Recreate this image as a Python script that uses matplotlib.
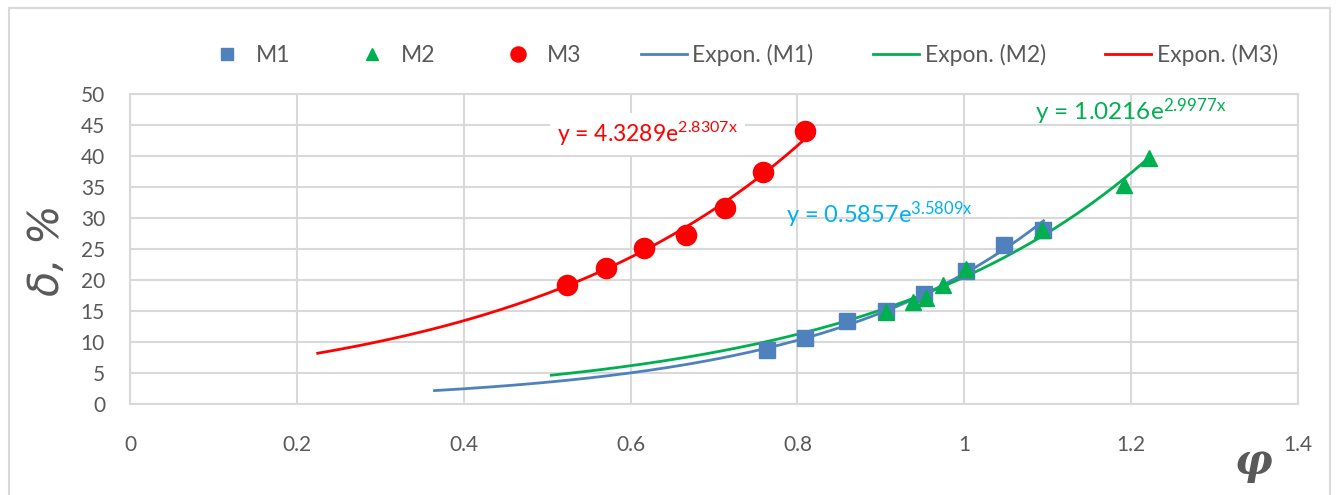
import numpy as np
import matplotlib
matplotlib.use("Agg")
import matplotlib.pyplot as plt
from matplotlib.patches import Rectangle

plt.rcParams['font.family'] = ['Lato', 'DejaVu Sans']
plt.rcParams['mathtext.fontset'] = 'custom'
plt.rcParams['mathtext.rm'] = 'Lato'
plt.rcParams['mathtext.it'] = 'Lato:italic'

# ---- data ----
m1_x = [0.763, 0.809, 0.860, 0.906, 0.952, 1.002, 1.048, 1.094]
m1_y = [8.7, 10.6, 13.4, 15.0, 17.7, 21.5, 25.6, 28.1]
m2_x = [0.906, 0.938, 0.954, 0.974, 1.002, 1.093, 1.191, 1.222]
m2_y = [14.9, 16.5, 17.1, 19.2, 21.8, 28.0, 35.4, 39.7]
m3_x = [0.524, 0.571, 0.616, 0.666, 0.713, 0.759, 0.809]
m3_y = [19.2, 21.9, 25.2, 27.3, 31.6, 37.4, 44.0]

fit_a = [0.5857, 1.0216, 4.3289]
fit_b = [3.5809, 2.9977, 2.8307]
fit_range = [(0.365, 1.095), (0.505, 1.222), (0.225, 0.81)]
eq_labels = ["y = 0.5857e$^{\\mathrm{3.5809x}}$",
             "y = 1.0216e$^{\\mathrm{2.9977x}}$",
             "y = 4.3289e$^{\\mathrm{2.8307x}}$"]

x_ticks = [0, 0.2, 0.4, 0.6, 0.8, 1.0, 1.2, 1.4]
x_tick_labels = ["0", "0.2", "0.4", "0.6", "0.8", "1", "1.2", "1.4"]
y_ticks = [0, 5, 10, 15, 20, 25, 30, 35, 40, 45, 50]

c_blue = "#4F81BD"
c_green = "#00B050"
c_red = "#FF0000"
c_eq_blue = "#00B0F0"
grid_c = "#D9D9D9"
text_c = "#595959"

fig = plt.figure(figsize=(13.38, 4.95), dpi=100)
fig.patches.append(Rectangle((9/1338, -0.02), (1330-9)/1338, 1.02 - 8/495,
                             transform=fig.transFigure, fill=False,
                             edgecolor=grid_c, linewidth=1.5))
ax = fig.add_axes([130/1338, 1-404/495, (1298-130)/1338, (404-94)/495])

h1, = ax.plot(m1_x, m1_y, 's', color=c_blue, markersize=11.5, label="M1", zorder=4)
h2, = ax.plot(m2_x, m2_y, '^', color=c_green, markersize=11, label="M2", zorder=5)
h3, = ax.plot(m3_x, m3_y, 'o', color=c_red, markersize=14.5, label="M3", zorder=4)

colors = [c_blue, c_green, c_red]
names = ["Expon. (M1)", "Expon. (M2)", "Expon. (M3)"]
lh = []
for a, b, (x0, x1), c, n in zip(fit_a, fit_b, fit_range, colors, names):
    xx = np.linspace(x0, x1, 200)
    l, = ax.plot(xx, a * np.exp(b * xx), '-', color=c, lw=2, label=n, zorder=3)
    lh.append(l)

ax.set_xlim(0, 1.4)
ax.set_ylim(0, 50)
ax.set_xticks(x_ticks)
ax.set_xticklabels(x_tick_labels)
ax.set_yticks(y_ticks)
ax.grid(True, color=grid_c, linewidth=1.5)
ax.set_axisbelow(True)
for s in ax.spines.values():
    s.set_color(grid_c)
    s.set_linewidth(1.5)
ax.tick_params(length=0, labelsize=15, colors=text_c)
ax.tick_params(axis='x', pad=22)
ax.tick_params(axis='y', pad=18)

# equations
ax.text(0.7865, 30.6, eq_labels[0], color=c_eq_blue, fontsize=17, va='center', ha='left')
ax.text(1.0843, 47.2, eq_labels[1], color=c_green, fontsize=17.5, va='center', ha='left')
ax.text(0.512, 43.6, eq_labels[2], color=c_red, fontsize=16.5, va='center', ha='left',
        bbox=dict(facecolor='white', edgecolor='none', pad=5), zorder=6)

# axis labels
fig.text(47/1338, 1-250/495, "δ, %", rotation=90, fontsize=30, style='italic',
         color=text_c, ha='center', va='center', family=['DejaVu Sans'])
fig.text(1254/1338, 1-462/495, "φ", fontsize=30, style='italic', weight='bold',
         color=text_c, ha='center', va='center', family=['DejaVu Serif'])

leg = fig.legend([h1, h2, h3] + lh, ["M1", "M2", "M3"] + names,
                 loc='center', bbox_to_anchor=(741/1338, 1-55/495), ncol=6,
                 frameon=False, fontsize=16.5, handlelength=2.0, columnspacing=2.6,
                 handletextpad=0.25, labelcolor=text_c, markerscale=0.75)

fig.savefig("out.png", dpi=100)
